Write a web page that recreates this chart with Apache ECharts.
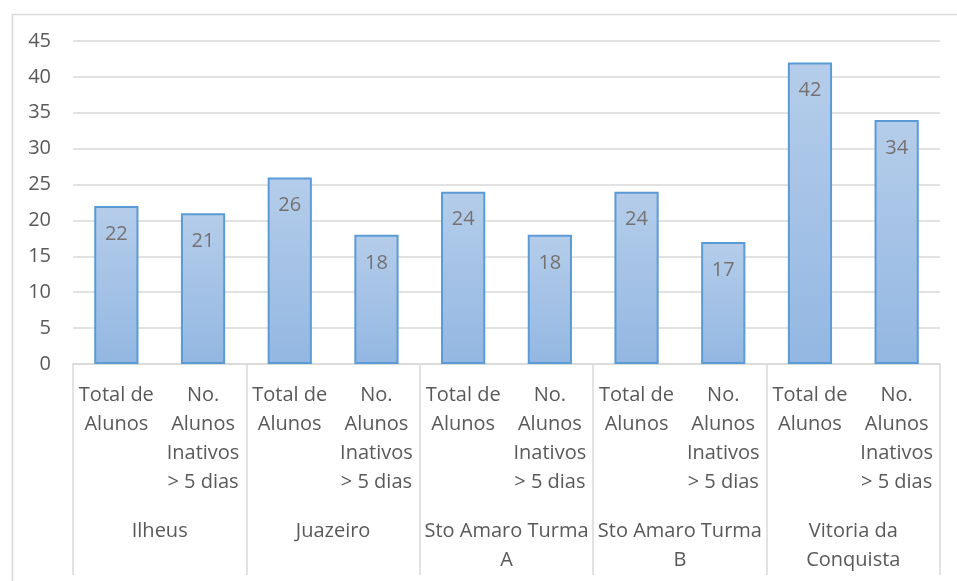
<!DOCTYPE html>
<html>
<head>
<meta charset="utf-8">
<script src="https://cdn.jsdelivr.net/npm/echarts@6/dist/echarts.min.js"></script>
<style>html,body{margin:0;padding:0;background:#fff}#c{width:957px;height:581px}</style>
</head>
<body>
<div id="c"></div>
<script>
var categories = ["Total de\nAlunos", "No.\nAlunos\nInativos\n> 5 dias", "Total de\nAlunos", "No.\nAlunos\nInativos\n> 5 dias", "Total de\nAlunos", "No.\nAlunos\nInativos\n> 5 dias", "Total de\nAlunos", "No.\nAlunos\nInativos\n> 5 dias", "Total de\nAlunos", "No.\nAlunos\nInativos\n> 5 dias"];
var groups = ["Ilheus", "Juazeiro", "Sto Amaro Turma\nA", "Sto Amaro Turma\nB", "Vitoria da\nConquista"];
var values = [22, 21, 26, 18, 24, 18, 24, 17, 42, 34];
var yMin = 0, yMax = 45, yStep = 5;

var FONT = 'Open Sans';
var chart = echarts.init(document.getElementById('c'), null, {renderer: 'canvas'});
chart.setOption({
  animation: false,
  textStyle: {fontFamily: FONT},
  graphic: [{
    type: 'rect', left: 10, top: 12, silent: true,
    shape: {x: 0.5, y: 0.5, width: 960, height: 600},
    style: {fill: 'none', stroke: '#d9d9d9', lineWidth: 1.5}
  }],
  grid: {left: 73, right: 17, top: 41, bottom: 217, containLabel: false},
  xAxis: [{
    type: 'category', data: categories, position: 'bottom',
    axisLine: {show: true, lineStyle: {color: '#d9d9d9', width: 1.5}},
    axisTick: {show: false},
    axisLabel: {interval: 0, color: '#595959', fontSize: 20, fontFamily: FONT, lineHeight: 29, margin: 17, align: 'center'}
  }, {
    type: 'category', data: groups, position: 'bottom', gridIndex: 0,
    axisLine: {show: false},
    axisTick: {show: true, length: 211, interval: 0, alignWithLabel: false, lineStyle: {color: '#d9d9d9', width: 1.5}},
    axisLabel: {interval: 0, color: '#595959', fontSize: 20, fontFamily: FONT, lineHeight: 29, margin: 153}
  }],
  yAxis: {
    type: 'value', min: yMin, max: yMax, interval: yStep,
    axisLine: {show: false}, axisTick: {show: false},
    axisLabel: {color: '#595959', fontSize: 20, fontFamily: FONT, margin: 22},
    splitLine: {lineStyle: {color: '#d9d9d9', width: 1.5}}
  },
  series: [{
    type: 'bar', xAxisIndex: 0, data: values, barCategoryGap: '49%',
    itemStyle: {
      color: new echarts.graphic.LinearGradient(0, 0, 0, 1, [
        {offset: 0, color: '#b5cdea'}, {offset: 1, color: '#93b7e2'}
      ]),
      borderColor: '#5b9bd5', borderWidth: 2
    },
    label: {show: true, position: 'insideTop', distance: 18, color: '#767171', fontSize: 20, fontFamily: FONT}
  }]
});
</script>
</body>
</html>
